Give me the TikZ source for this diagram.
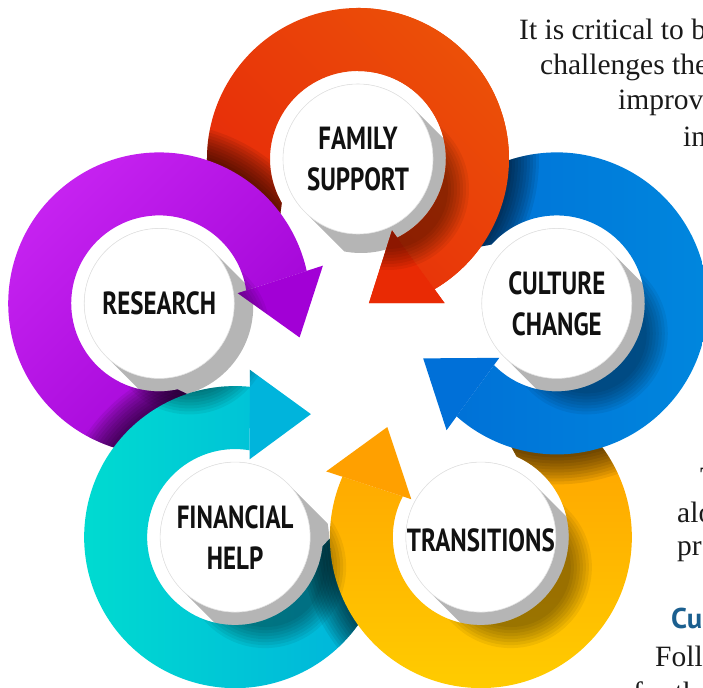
\documentclass[tikz,border=0pt]{standalone}
\usepackage{fontspec}
\setmainfont{Liberation Serif}
\newfontfamily\labfont[FakeStretch=0.78]{PT Sans}
\newfontfamily\headfont{PT Sans}
\usetikzlibrary{calc}

\definecolor{redA}{HTML}{EC5208}
\definecolor{redB}{HTML}{E8300A}
\definecolor{redC}{HTML}{E6260A}
\definecolor{redT}{HTML}{E92A04}
\definecolor{purA}{HTML}{C824F2}
\definecolor{purB}{HTML}{9C00D2}
\definecolor{purT}{HTML}{A200D6}
\definecolor{cyA}{HTML}{00DCD0}
\definecolor{cyB}{HTML}{00AEDD}
\definecolor{cyT}{HTML}{00B4DC}
\definecolor{orA}{HTML}{FF9C00}
\definecolor{orB}{HTML}{FFCC00}
\definecolor{orT}{HTML}{FFA000}
\definecolor{blA}{HTML}{006ED6}
\definecolor{blB}{HTML}{0088DE}
\definecolor{blT}{HTML}{0070D8}
\definecolor{shadowgray}{HTML}{B5B5B5}
\definecolor{discline}{HTML}{E2E2E2}
\definecolor{labink}{HTML}{111111}
\definecolor{bodyink}{HTML}{1A1A1A}
\definecolor{headblue}{HTML}{1B5F8F}

% band of arrow k around C<k>: tail hidden under the neighbour, head cut along the seam of its tip
\newcommand\ringpath[1]{($(C#1)+({235-72*#1}:151)$)
  arc[start angle={235-72*#1}, end angle={-59.6-72*#1}, radius=151]
  -- ($(C#1)+({-63.5-72*#1}:88)$)
  arc[start angle={-63.5-72*#1}, end angle={210-72*#1}, radius=88] -- cycle}
% arrow tip of arrow k (clockwise outline)
\newcommand\tripath[1]{({80.4-72*#1}:65.92) -- ({76.11-72*#1}:141.64) -- ({36.92-72*#1}:108.2) -- cycle}
% long shadow: disc of radius #2 at #1 dragged by (#3,-#3)
\newcommand\capsule[3]{($(#1)+(45:#2)$) -- ++(#3,-#3)
  arc[start angle=45, end angle=-135, radius=#2] -- ++(-#3,#3)
  arc[start angle=-135, end angle=-315, radius=#2] -- cycle}
\newcommand\allarrows{\ringpath{0} \ringpath{1} \ringpath{2} \ringpath{3} \ringpath{4}
  \tripath{0} \tripath{1} \tripath{2} \tripath{3} \tripath{4}}
% one arrow: shaded band, darkened where it runs under arrow #4, and its tip
\newcommand\drawarrow[4]{%
  \shade[#2] \ringpath{#1};
  \begin{scope}
    \clip \ringpath{#1};
    \foreach \s in {3,6,...,30}
      \fill[black, opacity=0.075] (C#4) circle[radius=151+\s];
  \end{scope}
  \fill[#3] \tripath{#1};
}

\begin{document}
\begin{tikzpicture}[x=1pt, y=1pt,
  lab/.style={font=\labfont\bfseries\fontsize{32}{41}\selectfont, align=center, inner sep=0pt, text=labink},
  body/.style={font=\fontsize{29.5}{35.5}\selectfont, anchor=base west, inner sep=0pt, text=bodyink},
  head/.style={font=\headfont\bfseries\fontsize{28.6}{34}\selectfont, anchor=base west, inner sep=0pt, text=headblue},
  redshade/.style={top color=redA, middle color=redB, bottom color=redC, shading angle=-45},
  purshade/.style={top color=purA, bottom color=purB, shading angle=45},
  cyshade/.style={left color=cyA, right color=cyB},
  orshade/.style={top color=orA, bottom color=orB},
  blshade/.style={left color=blA, right color=blB}]
\useasboundingbox (-358,-319) rectangle (345,368);
\clip (-358,-319) rectangle (345,368);

\foreach \k in {0,...,4} \coordinate (C\k) at ({90-72*\k}:209);

% grey long shadows behind the discs
\foreach \k in {0,...,4}{
  \begin{scope}
    \clip ($(C\k)+(3,-3)$) circle[radius=91];
    \fill[shadowgray] \capsule{C\k}{75}{40};
  \end{scope}
}

% the five circular arrows
\drawarrow{0}{redshade}{redT}{4}
\drawarrow{4}{purshade}{purT}{3}
\drawarrow{3}{cyshade}{cyT}{2}
\drawarrow{2}{orshade}{orT}{1}
\drawarrow{1}{blshade}{blT}{0}
% the red arrow passes over the tail of the blue one
\begin{scope}
  \clip (0,0) rectangle (345,368);
  \shade[redshade] \ringpath{0};
  \fill[redT] \tripath{0};
\end{scope}

% shadows of the discs falling on the coloured bands
\begin{scope}
  \clip \allarrows;
  \foreach \k in {0,...,4}
    \foreach \rr in {60,63,...,81}
      \fill[black, opacity=0.06] \capsule{C\k}{\rr}{30};
\end{scope}

% white discs
\foreach \k in {0,...,4}
  \filldraw[fill=white, draw=discline, line width=0.6pt] (C\k) circle[radius=75];

\node[lab] (famsup) at (C0) {FAMILY\\SUPPORT};
\node[lab] (culture) at (C1) {CULTURE\\CHANGE};
\node[lab] (trans) at ($(C2)+(0,-3)$) {TRANSITIONS};
\node[lab] (fin) at (C3) {FINANCIAL\\HELP};
\node[lab] (research) at (C4) {RESEARCH};

% running text beside the figure
\node[body] (l1) at (161,328) {It is critical to b};
\node[body] (l2) at (182,293) {challenges the};
\node[body] (l3) at (260,258) {improv};
\node[body] (l4) at (325,221.3) {in};
\node[body] (l5) at (342,-119) {T};
\node[body] (l6) at (319,-154) {alo};
\node[body] (l7) at (319,-187) {pr};
\node[head] (h1) at (313,-260) {Cu};
\node[body] (l8) at (297,-298.7) {Follo};
\node[body] (l9) at (275,-334) {for th};
\end{tikzpicture}
\end{document}
